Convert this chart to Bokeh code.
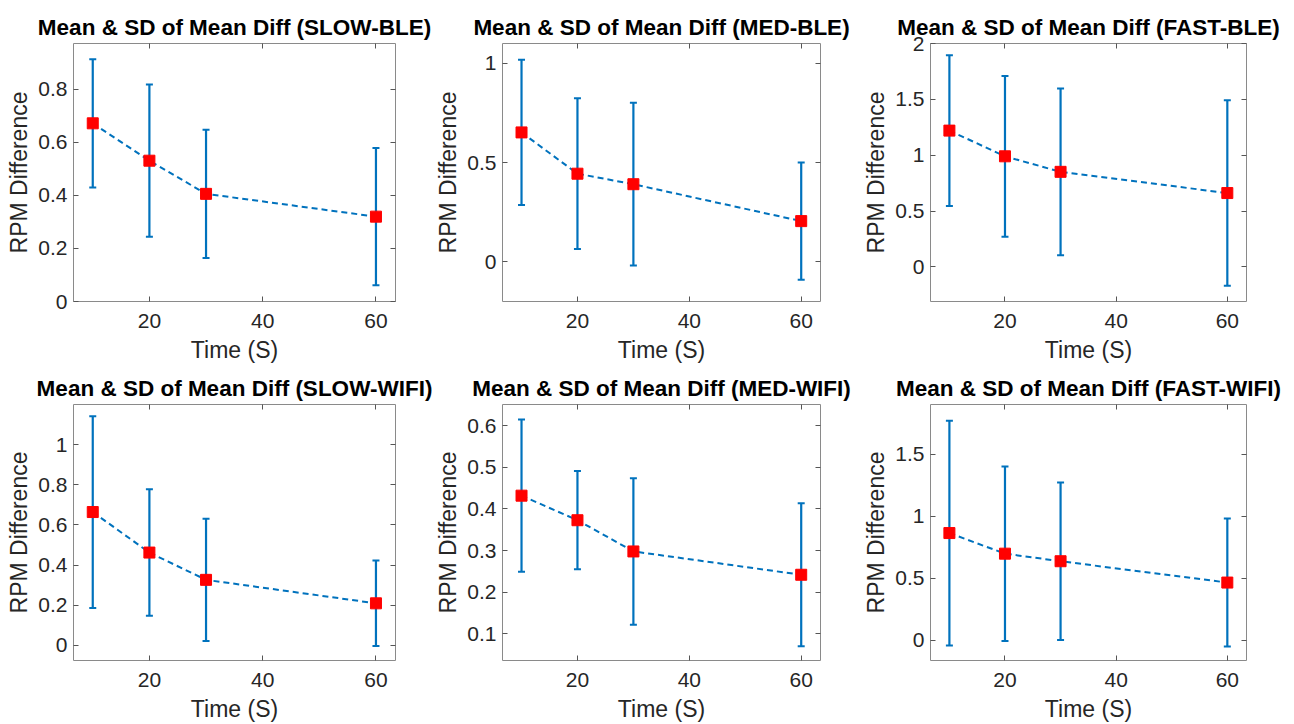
from bokeh.plotting import figure
from bokeh.layouts import column, row
from bokeh.models import (ColumnDataSource, Whisker, TeeHead, Range1d, FixedTicker,
                          LinearAxis, CustomJSTickFormatter)
from bokeh.embed import file_html
from bokeh.resources import INLINE

# ---- data ----
time_s = [10, 20, 30, 60]

titles = ["Mean & SD of Mean Diff (SLOW-BLE)", "Mean & SD of Mean Diff (MED-BLE)",
          "Mean & SD of Mean Diff (FAST-BLE)", "Mean & SD of Mean Diff (SLOW-WIFI)",
          "Mean & SD of Mean Diff (MED-WIFI)", "Mean & SD of Mean Diff (FAST-WIFI)"]

slow_ble_mean = [0.672, 0.531, 0.406, 0.320]
slow_ble_sd = [0.242, 0.287, 0.242, 0.259]
med_ble_mean = [0.652, 0.444, 0.391, 0.205]
med_ble_sd = [0.366, 0.380, 0.410, 0.296]
fast_ble_mean = [1.220, 0.990, 0.851, 0.661]
fast_ble_sd = [0.675, 0.720, 0.747, 0.830]
slow_wifi_mean = [0.664, 0.462, 0.326, 0.209]
slow_wifi_sd = [0.478, 0.315, 0.305, 0.213]
med_wifi_mean = [0.432, 0.373, 0.298, 0.242]
med_wifi_sd = [0.183, 0.118, 0.176, 0.172]
fast_wifi_mean = [0.864, 0.698, 0.637, 0.465]
fast_wifi_sd = [0.906, 0.703, 0.635, 0.516]

x_ticks = [20, 40, 60]
y_ticks_list = [
    [0, 0.2, 0.4, 0.6, 0.8],
    [0, 0.5, 1],
    [0, 0.5, 1, 1.5, 2],
    [0, 0.2, 0.4, 0.6, 0.8, 1],
    [0.1, 0.2, 0.3, 0.4, 0.5, 0.6],
    [0, 0.5, 1, 1.5],
]
y_limits = [(0, 0.973), (-0.2, 1.1), (-0.31, 2.0), (-0.076, 1.2), (0.036, 0.651), (-0.163, 1.9)]
x_limits = (6.6, 63.45)

means = [slow_ble_mean, med_ble_mean, fast_ble_mean, slow_wifi_mean, med_wifi_mean, fast_wifi_mean]
sds = [slow_ble_sd, med_ble_sd, fast_ble_sd, slow_wifi_sd, med_wifi_sd, fast_wifi_sd]

# ---- layout geometry (page has no margin in bokeh's template) ----
col_w = [432, 428, 434]
col_bl = [73, 67, 63]
col_br = [37, 40, 48]
row_h = [365, 359]
row_bt = [43, 39]
row_bb = [63, 63]

BLUE = "#0072BD"
TXT = "#262626"
FONT = "Liberation Sans"

fmt = CustomJSTickFormatter(code="return String(Math.round(tick*1000)/1000);")


def make(i):
    r, c = divmod(i, 3)
    m = means[i]
    s = sds[i]
    lo = [a - b for a, b in zip(m, s)]
    hi = [a + b for a, b in zip(m, s)]
    src = ColumnDataSource(dict(x=time_s, y=m, lo=lo, hi=hi))
    p = figure(width=col_w[c], height=row_h[r], output_backend="svg", toolbar_location=None,
               x_range=Range1d(*x_limits), y_range=Range1d(*y_limits[i]),
               min_border_left=col_bl[c], min_border_right=col_br[c],
               min_border_top=row_bt[r], min_border_bottom=row_bb[r],
               title=titles[i])
    p.title.text_font = FONT
    p.title.text_font_size = "22.5px"
    p.title.text_font_style = "bold"
    p.title.text_color = "black"
    p.title.align = "center"
    p.title.standoff = 7
    p.grid.visible = False
    p.outline_line_color = "#8a8a8a"
    p.outline_line_width = 1
    p.background_fill_color = "white"
    p.border_fill_color = "white"

    for ax in (p.xaxis[0], p.yaxis[0]):
        ax.axis_line_color = None
        ax.major_tick_in = 5
        ax.major_tick_out = 0
        ax.minor_tick_line_color = None
        ax.major_tick_line_color = "#555555"
        ax.major_label_text_font = FONT
        ax.major_label_text_font_size = "21px"
        ax.major_label_text_color = TXT
        ax.axis_label_text_font = FONT
        ax.axis_label_text_font_size = "23px"
        ax.axis_label_text_font_style = "normal"
        ax.axis_label_text_color = TXT
        ax.formatter = fmt
    p.xaxis[0].ticker = FixedTicker(ticks=x_ticks)
    p.yaxis[0].ticker = FixedTicker(ticks=y_ticks_list[i])
    p.xaxis[0].axis_label = "Time (S)"
    p.yaxis[0].axis_label = "RPM Difference"
    p.xaxis[0].major_label_standoff = 12
    p.xaxis[0].axis_label_standoff = 6
    p.yaxis[0].major_label_standoff = 6
    p.yaxis[0].axis_label_standoff = 3

    # mirrored ticks on top and right (no labels)
    top = LinearAxis(ticker=FixedTicker(ticks=x_ticks), axis_line_color=None,
                     major_tick_in=5, major_tick_out=0, minor_tick_line_color=None,
                     major_tick_line_color="#555555", major_label_text_font_size="1px",
                     major_label_text_color=None, major_label_standoff=0)
    right = LinearAxis(ticker=FixedTicker(ticks=y_ticks_list[i]), axis_line_color=None,
                       major_tick_in=5, major_tick_out=0, minor_tick_line_color=None,
                       major_tick_line_color="#555555", major_label_text_font_size="1px",
                       major_label_text_color=None, major_label_standoff=0)
    p.add_layout(top, "above")
    p.add_layout(right, "right")

    w = Whisker(base="x", lower="lo", upper="hi", source=src,
                line_color=BLUE, line_width=2.2,
                upper_head=TeeHead(size=7, line_color=BLUE, line_width=2),
                lower_head=TeeHead(size=7, line_color=BLUE, line_width=2))
    p.add_layout(w)
    p.line("x", "y", source=src, line_color=BLUE, line_width=2, line_dash="6 4")
    p.scatter("x", "y", source=src, marker="square", size=11, fill_color="#FF0000",
              line_color="#FF0000")
    return p


figs = [make(i) for i in range(6)]
layout = column(row(*figs[:3]), row(*figs[3:]))
open("out.html", "w").write(file_html(layout, INLINE))
